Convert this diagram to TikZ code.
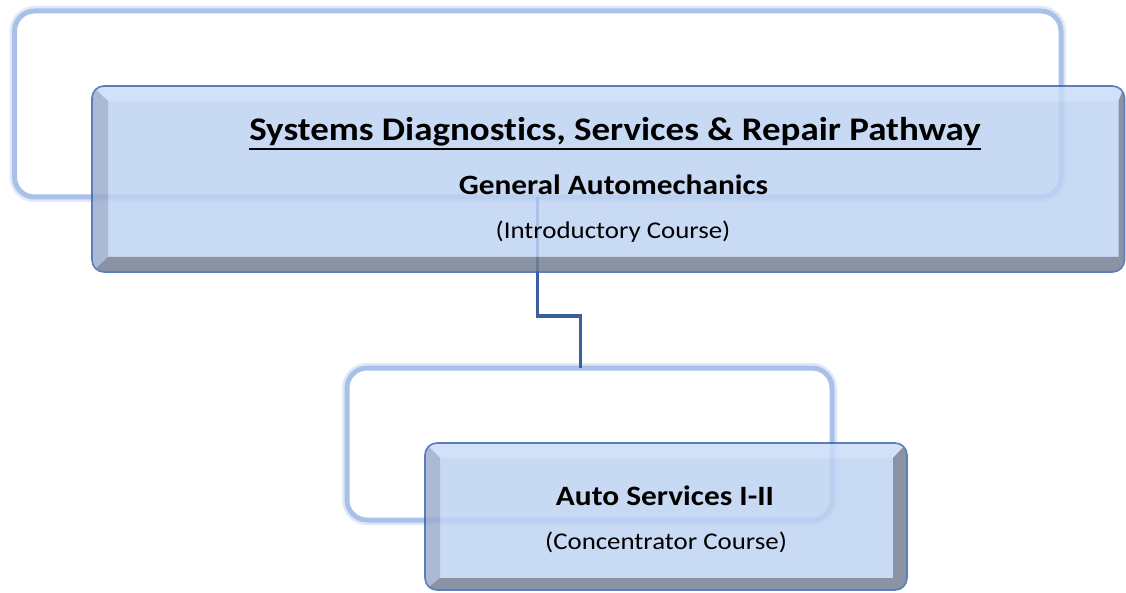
\documentclass[tikz,border=0pt]{standalone}
\usepackage{fontspec}
\setmainfont{Carlito}[Ligatures=NoCommon]
\usetikzlibrary{calc}

\definecolor{glowblue}{HTML}{A9C1E9}
\definecolor{boxfill}{HTML}{BFD3F2}
\definecolor{bevtop}{HTML}{CADCF7}
\definecolor{bevleft}{HTML}{9EADCE}
\definecolor{bevshade}{HTML}{758093}
\definecolor{edgeblue}{HTML}{3F68B0}
\definecolor{linkblue}{HTML}{3A5E9E}

% slightly widened lettering
\newcommand\stretchtext[1]{\scalebox{1.12}[1]{#1}}

\tikzset{
  backframe/.style={rectangle, rounded corners=20pt, fill=white, draw=glowblue,
    line width=5pt, inner sep=0pt, outer sep=0pt,
    preaction={draw=glowblue, line width=10pt, opacity=0.35}},
  frontbox/.style={rectangle, rounded corners=12pt, fill=boxfill, inner sep=0pt, outer sep=0pt},
  boxedge/.style={draw=edgeblue, line width=1.6pt, rounded corners=12pt},
  link/.style={draw=linkblue, line width=3pt},
  titletext/.style={anchor=base, inner sep=0pt, font=\fontsize{33}{40}\selectfont\bfseries},
  subtext/.style={anchor=base, inner sep=0pt, font=\fontsize{28}{34}\selectfont\bfseries},
  notetext/.style={anchor=base, inner sep=0pt, font=\fontsize{24}{29}\selectfont},
}

% bevel bands of a front box: node, top, left, bottom, right widths
\newcommand\bevelbox[5]{%
  \begin{scope}
    \clip[rounded corners=12pt] (#1.south west) rectangle (#1.north east);
    \fill[bevtop] (#1.north west) -- (#1.north east)
      -- ($(#1.north east)+(-#5,#2)$) -- ($(#1.north west)+(#3,#2)$) -- cycle;
    \fill[bevleft] (#1.north west) -- ($(#1.north west)+(#3,#2)$)
      -- ($(#1.south west)+(#3,-#4)$) -- (#1.south west) -- cycle;
    \fill[bevshade] (#1.south west) -- ($(#1.south west)+(#3,-#4)$)
      -- ($(#1.south east)+(-#5,-#4)$) -- (#1.south east) -- cycle;
    \fill[bevshade] (#1.north east) -- ($(#1.north east)+(-#5,#2)$)
      -- ($(#1.south east)+(-#5,-#4)$) -- (#1.south east) -- cycle;
  \end{scope}
  \draw[boxedge] (#1.south west) rectangle (#1.north east);
}

\begin{document}
\begin{tikzpicture}[x=1pt, y=-1pt]
  \useasboundingbox (0,0) rectangle (1126,593);

  % back frames
  \node[backframe, minimum width=1046.5pt, minimum height=186pt] (f1) at (537.75,104) {};
  \node[backframe, minimum width=485pt, minimum height=152pt] (f2) at (589.5,444) {};

  % connector between the two levels
  \draw[link] (f1.south) -- ++(0,119) -| ([xshift=-9.5pt]f2.north);

  % front boxes, slightly see-through
  \begin{scope}[transparency group, opacity=0.85]
    \node[frontbox, minimum width=1032.5pt, minimum height=186pt] (b1) at (608.25,179) {};
    \bevelbox{b1}{15}{16}{15}{6}
  \end{scope}
  \begin{scope}[transparency group, opacity=0.85]
    \node[frontbox, minimum width=482pt, minimum height=147pt] (b2) at (666,516.5) {};
    \bevelbox{b2}{15}{15}{12}{14}
  \end{scope}

  % texts of the upper box
  \node[titletext] (ttl) at (615,140.5) {\stretchtext{Systems Diagnostics, Services \& Repair Pathway}};
  \draw[line width=2pt] ([yshift=-8.5pt]ttl.base west) -- ([yshift=-8.5pt]ttl.base east);
  \node[subtext] (gen) at (613.5,195) {\stretchtext{General Automechanics}};
  \node[notetext] (intro) at (613,239) {\stretchtext{(Introductory Course)}};

  % texts of the lower box
  \node[subtext] (auto) at (665,505) {\stretchtext{Auto Services I-II}};
  \node[notetext] (conc) at (666,549) {\stretchtext{(Concentrator Course)}};
\end{tikzpicture}
\end{document}
